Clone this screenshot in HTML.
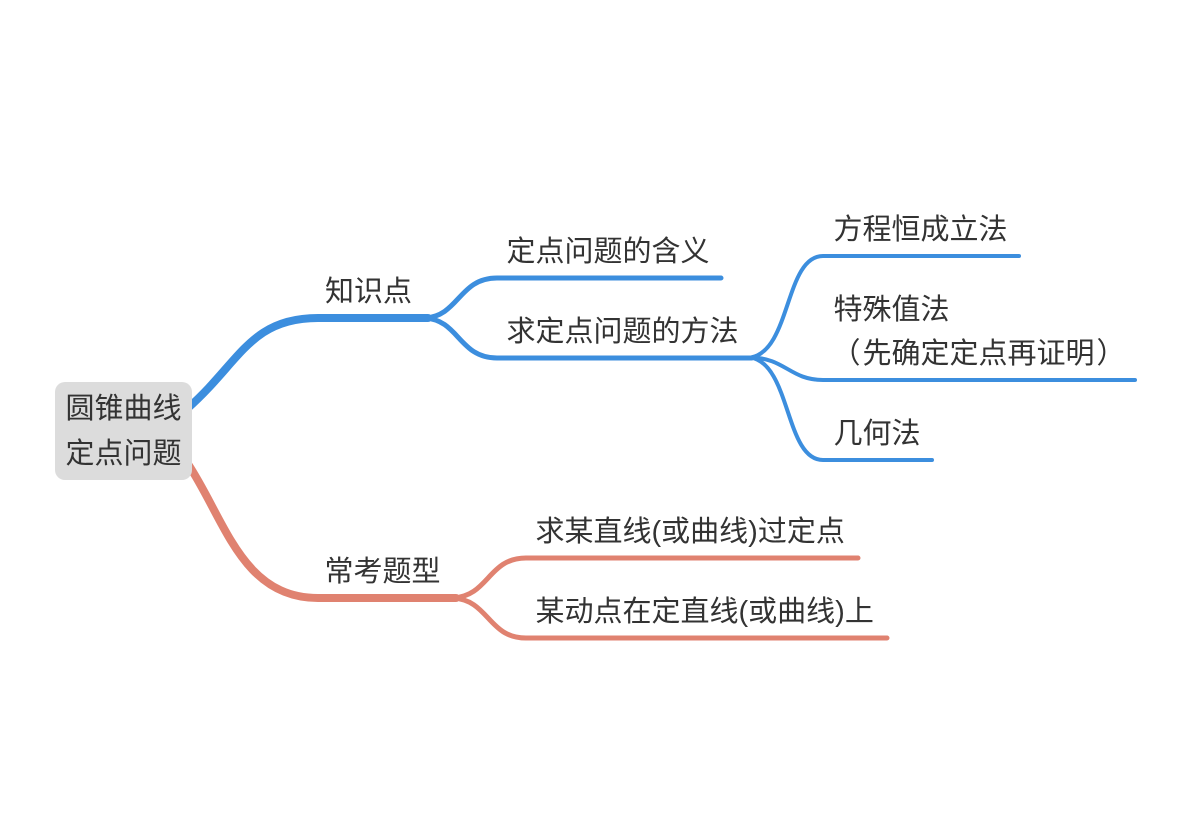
<!DOCTYPE html>
<html lang="zh">
<head>
<meta charset="utf-8">
<style>
html,body{margin:0;padding:0;background:#fff;width:1190px;height:840px;overflow:hidden}
svg{display:block}
text{font-family:"Liberation Sans","WenQuanYi Zen Hei",sans-serif;font-size:29px;fill:#333;font-weight:400}
path{fill:none;stroke-linecap:round}
</style>
</head>
<body>
<svg width="1190" height="840" viewBox="0 0 1190 840" xmlns="http://www.w3.org/2000/svg">
<rect width="1190" height="840" fill="#fff"/>
<g stroke="#3c8ede">
<path d="M188 408 C240 362 250 318 318 318 L428 318" stroke-width="8" stroke-linecap="butt"/>
<path d="M425 318 C459 316 459 278 497 278 L721 278" stroke-width="5"/>
<path d="M425 318 C459 320 459 358 497 358 L752 358" stroke-width="5"/>
<path d="M751 357.500 C791 350 785 256 823 256 L1019 256" stroke-width="4"/>
<path d="M751 357.500 C785 358 790 380 823 380 L1135 380" stroke-width="4"/>
<path d="M751 357.500 C791 365 785 460 823 460 L932 460" stroke-width="4"/>
</g>
<g stroke="#e08270">
<path d="M188 464 C225 520 242 598 318 598 L456 598" stroke-width="8" stroke-linecap="butt"/>
<path d="M453 598 C489 596 488 558 526 558 L858 558" stroke-width="5"/>
<path d="M453 598 C489 600 488 638 526 638 L887 638" stroke-width="5"/>
</g>
<rect x="55" y="382" width="137" height="98" rx="10" ry="10" fill="#dcdcdc"/>
<text x="65.500" y="418">圆锥曲线</text>
<text x="65.500" y="463">定点问题</text>
<text x="325" y="301">知识点</text>
<text x="324.500" y="581">常考题型</text>
<text x="506.500" y="261">定点问题的含义</text>
<text x="506.500" y="341">求定点问题的方法</text>
<text x="833.500" y="239">方程恒成立法</text>
<text x="833.500" y="319">特殊值法</text>
<text x="833.500" y="363"><tspan dx="-2">（</tspan><tspan dx="2">先确定定点再证明</tspan><tspan dx="2">）</tspan></text>
<text x="833.500" y="443">几何法</text>
<text x="535.500" y="541">求某直线(或曲线)过定点</text>
<text x="535.500" y="621">某动点在定直线(或曲线)上</text>
</svg>
</body>
</html>
